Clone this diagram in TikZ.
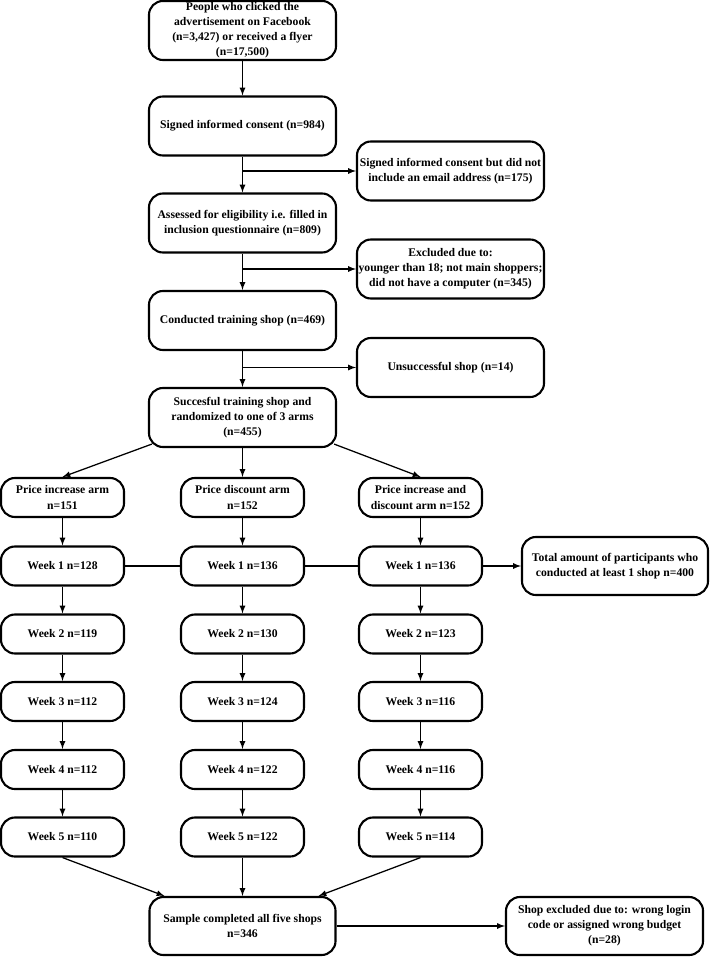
\documentclass[tikz,border=0pt]{standalone}
\usepackage{fontspec}
\setmainfont{Liberation Serif}
\usepackage{tikz}
\usetikzlibrary{positioning}

\begin{document}
\begin{tikzpicture}[>=latex, x=0.025cm, y=-0.025cm,
    hop/.style={draw, line width=1.5pt, rounded corners=0.35cm, align=center, inner sep=1pt,
        font=\fontsize{8.3}{10.7}\selectfont\bfseries},
    hopgiua/.style={hop, minimum width=4.675cm, minimum height=1.475cm},
    hopcot/.style={hop, minimum width=3.075cm, minimum height=0.975cm},
    muiten/.style={->, line width=0.9pt}]
    \useasboundingbox (0,0) rectangle (709,957);

    % Cột chính phía trên
    \node[hopgiua] (batdau) at (242.5,30.5) {People who clicked the\\advertisement on Facebook\\(n=3,427) or received a flyer\\(n=17,500)};
    \node[hopgiua] (dongy) at (242.5,126) {Signed informed consent (n=984)};
    \node[hopgiua] (danhgia) at (242.5,223) {Assessed for eligibility i.e. filled in\\inclusion questionnaire (n=809)};
    \node[hopgiua] (thumua) at (242.5,320.5) {Conducted training shop (n=469)};
    \node[hopgiua] (ngaunhien) at (242.5,417.5) {Succesful training shop and\\randomized to one of 3 arms\\(n=455)};

    % Các hộp loại trừ bên phải
    \node[hopgiua] (ben1) at (450.5,171) {Signed informed consent but did not\\include an email address (n=175)};
    \node[hopgiua] (ben2) at (450.5,269) {Excluded due to:\\younger than 18; not main shoppers;\\did not have a computer (n=345)};
    \node[hopgiua] (ben3) at (450.5,367.5) {Unsuccessful shop (n=14)};

    % Ba nhánh và các tuần
    \node[hopcot] (tang) at (62.5,497.5) {Price increase arm\\n=151};
    \node[hopcot] (giam) at (242.5,497.5) {Price discount arm\\n=152};
    \node[hopcot] (ca) at (420.5,497.5) {Price increase and\\discount arm n=152};
    \foreach \tuan/\vy/\a/\b/\c in {1/566/128/136/136, 2/634/119/130/123, 3/701.5/112/124/116, 4/769.5/112/122/116, 5/837/110/122/114} {
        \node[hopcot] (trai\tuan) at (62.5,\vy) {Week \tuan{} n=\a};
        \node[hopcot] (giua\tuan) at (242.5,\vy) {Week \tuan{} n=\b};
        \node[hopcot] (phai\tuan) at (420.5,\vy) {Week \tuan{} n=\c};
    }
    \node[hop, minimum width=4.65cm, minimum height=1.45cm] (tong) at (615,566) {Total amount of participants who\\conducted at least 1 shop n=400};

    % Hộp cuối
    \node[hop, minimum width=4.65cm, minimum height=1.45cm] (mau) at (242.5,926) {Sample completed all five shops\\n=346};
    \node[hop, minimum width=4.925cm, minimum height=1.45cm] (loai) at (604.5,926) {Shop excluded due to: wrong login\\code or assigned wrong budget\\(n=28)};

    % Mũi tên cột chính
    \draw[muiten] (batdau) -- (dongy);
    \draw[muiten] (dongy) -- (danhgia);
    \draw[muiten] (danhgia) -- (thumua);
    \draw[muiten] (thumua) -- (ngaunhien);
    \draw[muiten] (dongy.south |- ben1) -- (ben1);
    \draw[muiten] (danhgia.south |- ben2) -- (ben2);
    \draw[muiten] (thumua.south |- ben3) -- (ben3);

    % Chia ba nhánh
    \draw[muiten] ([shift={(0.1cm,0.1cm)}]ngaunhien.south west) -- (tang.north);
    \draw[muiten] (ngaunhien) -- (giam);
    \draw[muiten] ([shift={(-0.075cm,0.1cm)}]ngaunhien.south east) -- (ca.north);
    \draw[muiten] (tang) -- (trai1);
    \draw[muiten] (giam) -- (giua1);
    \draw[muiten] (ca) -- (phai1);
    \foreach \i/\j in {1/2, 2/3, 3/4, 4/5} {
        \draw[muiten] (trai\i) -- (trai\j);
        \draw[muiten] (giua\i) -- (giua\j);
        \draw[muiten] (phai\i) -- (phai\j);
    }
    \draw[line width=0.9pt] (trai1) -- (giua1) (giua1) -- (phai1);
    \draw[muiten] (phai1) -- (tong);

    % Gộp về mẫu cuối
    \draw[muiten] (trai5.south) -- ([xshift=0.4cm]mau.north west);
    \draw[muiten] (giua5) -- (mau);
    \draw[muiten] (phai5.south) -- ([xshift=-0.45cm]mau.north east);
    \draw[muiten] (mau) -- (loai);
\end{tikzpicture}
\end{document}
